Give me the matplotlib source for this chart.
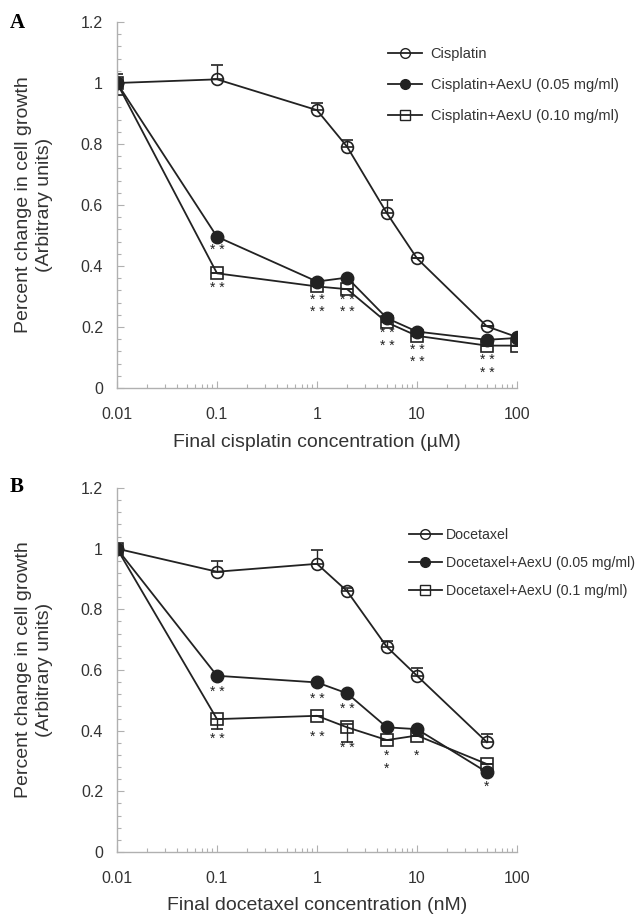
import matplotlib
matplotlib.use("Agg")
import matplotlib.pyplot as plt
from matplotlib.lines import Line2D
from matplotlib.ticker import FixedLocator, MultipleLocator, LogLocator, NullFormatter

plt.rcParams['font.family'] = ['Liberation Sans', 'DejaVu Sans']

# panel A - cisplatin (uM)
conc_a = [0.01, 0.1, 1, 2, 5, 10, 50, 100]
cis = [1.0, 1.012, 0.911, 0.791, 0.573, 0.425, 0.202, 0.167]
cis_lo = [0.04, 0, 0, 0, 0, 0, 0, 0]
cis_hi = [0.03, 0.046, 0.022, 0.022, 0.043, 0, 0, 0]
cis_a05 = [1.0, 0.496, 0.349, 0.362, 0.229, 0.185, 0.158, 0.164]
cis_a10 = [1.0, 0.376, 0.333, 0.324, 0.215, 0.171, 0.139, 0.139]
labels_a = ['Cisplatin', 'Cisplatin+AexU (0.05 mg/ml)', 'Cisplatin+AexU (0.10 mg/ml)']
# significance marks (x, y, text)
stars_a = [(0.1, 0.453, '* *'), (0.1, 0.327, '* *'),
           (1, 0.268, '* *\n* *'), (2, 0.268, '* *\n* *'),
           (5, 0.159, '* *\n* *'), (10, 0.104, '* *\n* *'),
           (50, 0.071, '* *\n* *')]

# panel B - docetaxel (nM)
conc_b = [0.01, 0.1, 1, 2, 5, 10, 50]
doc = [1.0, 0.924, 0.950, 0.860, 0.676, 0.581, 0.362]
doc_lo = [0, 0, 0, 0, 0, 0, 0]
doc_hi = [0, 0.035, 0.045, 0.01, 0.02, 0.024, 0.027]
doc_a05 = [1.0, 0.581, 0.559, 0.523, 0.411, 0.405, 0.263]
doc_a10 = [1.0, 0.438, 0.449, 0.411, 0.369, 0.384, 0.290]
doc_a10_lo = [0, 0.033, 0, 0.05, 0, 0, 0]
doc_a10_hi = [0, 0, 0, 0.01, 0, 0, 0]
labels_b = ['Docetaxel', 'Docetaxel+AexU (0.05 mg/ml)', 'Docetaxel+AexU (0.1 mg/ml)']
stars_b = [(0.1, 0.526, '* *'), (0.1, 0.373, '* *'),
           (1, 0.504, '* *'), (1, 0.378, '* *'),
           (2, 0.471, '* *'), (2, 0.342, '* *'),
           (5, 0.296, '*\n*'), (10, 0.318, '*'), (50, 0.214, '*')]

LC = '#222222'
TC = '#333333'

fig = plt.figure(figsize=(6.41, 9.15), dpi=100)
axA = fig.add_axes([117/641, 1-388/915, 400/641, 366/915])
axB = fig.add_axes([117/641, 1-852/915, 400/641, 364/915])


def style(ax, xlabel):
    ax.set_xscale('log')
    ax.set_xlim(0.01, 100)
    ax.set_ylim(0, 1.2)
    for s in ['top', 'right']:
        ax.spines[s].set_visible(False)
    for s in ['left', 'bottom']:
        ax.spines[s].set_color('#b0b0b0')
        ax.spines[s].set_linewidth(1.0)
    ax.xaxis.set_major_locator(FixedLocator([0.01, 0.1, 1, 10, 100]))
    ax.set_xticklabels(['0.01', '0.1', '1', '10', '100'])
    ax.xaxis.set_minor_locator(LogLocator(base=10, subs=range(2, 10)))
    ax.xaxis.set_minor_formatter(NullFormatter())
    ax.yaxis.set_minor_locator(MultipleLocator(0.04))
    ax.set_yticks([0, 0.2, 0.4, 0.6, 0.8, 1.0, 1.2])
    ax.set_yticklabels(['0', '0.2', '0.4', '0.6', '0.8', '1', '1.2'])
    ax.tick_params(which='both', direction='in', color='#b0b0b0', width=0.8)
    ax.tick_params(which='major', length=5, labelsize=11.5, labelcolor=TC)
    ax.tick_params(which='minor', length=3)
    ax.tick_params(axis='x', pad=14)
    ax.tick_params(axis='y', pad=10)
    ax.set_xlabel(xlabel, fontsize=14, color=TC)
    ax.set_ylabel('Percent change in cell growth\n(Arbitrary units)', fontsize=14,
                  color=TC, linespacing=1.3)
    ax.yaxis.set_label_coords(-0.16, 0.5)


def draw(ax, x, y1, e1lo, e1hi, y2, y3, e3lo, e3hi, stars):
    kw = dict(color=LC, lw=1.3, ecolor=LC, elinewidth=1.0, capsize=4, capthick=1.0,
              markersize=8.5, markeredgewidth=1.2, markeredgecolor=LC)
    ax.errorbar(x, y1, yerr=[e1lo, e1hi], marker='o', markerfacecolor='none', **kw)
    ax.plot(x, y2, marker='o', color=LC, lw=1.3, markersize=9, markerfacecolor=LC,
            markeredgecolor=LC)
    ax.errorbar(x, y3, yerr=[e3lo, e3hi], marker='s', markerfacecolor='none', **kw)
    for sx, sy, st in stars:
        ax.text(sx, sy, st, fontsize=10, ha='center', va='center', color=LC,
                linespacing=0.85)


def handles(labels):
    return [Line2D([], [], color=LC, lw=1.3, marker='o', markerfacecolor='none',
                   markeredgecolor=LC, markersize=7, label=labels[0]),
            Line2D([], [], color=LC, lw=1.3, marker='o', markerfacecolor=LC,
                   markeredgecolor=LC, markersize=7, label=labels[1]),
            Line2D([], [], color=LC, lw=1.3, marker='s', markerfacecolor='none',
                   markeredgecolor=LC, markersize=7, label=labels[2])]


style(axA, 'Final cisplatin concentration (\u00b5M)')
draw(axA, conc_a, cis, cis_lo, cis_hi, cis_a05, cis_a10,
     [0]*len(conc_a), [0]*len(conc_a), stars_a)
axA.xaxis.set_label_coords(0.5, -0.125)
axA.legend(handles=handles(labels_a), loc='upper left', bbox_to_anchor=(381/641, 1-40/915),
           bbox_transform=fig.transFigure, frameon=False, fontsize=10.5,
           handlelength=2.3, handletextpad=0.6, labelspacing=1.15, borderpad=0,
           labelcolor=TC)

style(axB, 'Final docetaxel concentration (nM)')
draw(axB, conc_b, doc, doc_lo, doc_hi, doc_a05, doc_a10,
     doc_a10_lo, doc_a10_hi, stars_b)
axB.xaxis.set_label_coords(0.5, -0.125)
axB.legend(handles=handles(labels_b), loc='upper left', bbox_to_anchor=(402/641, 1-521/915),
           bbox_transform=fig.transFigure, frameon=False, fontsize=10.2,
           handlelength=2.3, handletextpad=0.3, labelspacing=1.0, borderpad=0,
           labelcolor=TC)

fig.text(17/641, 1-23/915, 'A', fontsize=15, fontweight='bold', family='Liberation Serif',
         ha='center', va='center')
fig.text(17/641, 1-487/915, 'B', fontsize=15, fontweight='bold', family='Liberation Serif',
         ha='center', va='center')

fig.savefig('out.png', dpi=100)
